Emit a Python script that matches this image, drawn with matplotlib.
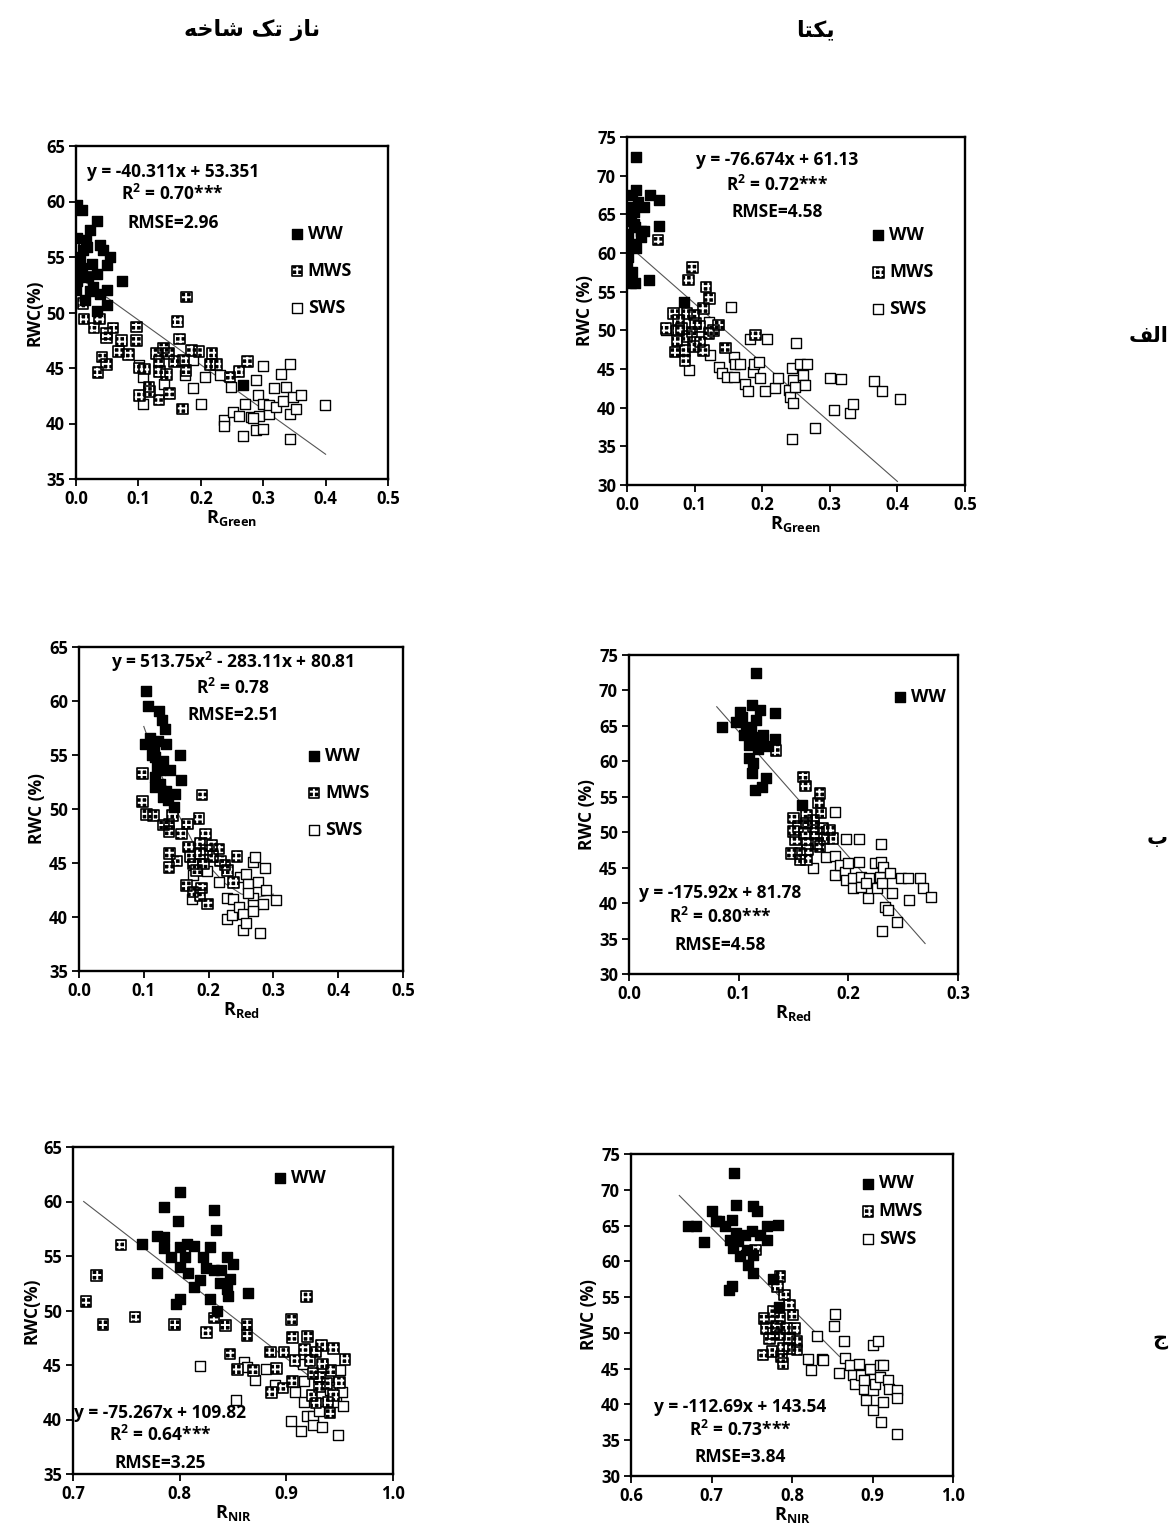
import matplotlib
matplotlib.use("Agg")
import matplotlib.pyplot as plt

plt.rcParams['font.family'] = ['Open Sans', 'DejaVu Sans']
plt.rcParams['font.weight'] = 'bold'
plt.rcParams['hatch.linewidth'] = 1.4

W, H = 1174, 1535

# --- column / row headings (Persian, written in shaped presentation forms, visual order)
col_titles = ['\ufeea\ufea7\ufe8e\ufeb7 \ufb8f\ufe97 \ufeaf\ufe8e\ufee7', '\ufe8e\ufe98\ufb91\ufef3']
row_titles = ['\ufed2\ufedf\ufe8d', '\ufe8f', '\ufe9d']

# --- panel 1: Naz tak shakheh, R_Green
p1_ww_x = [0.002, 0.009, 0.033, 0.022, 0.002, 0.017, 0.038, 0.054, 0.049, 0.006, 0.0, 0.009, 0.033, 0.02,
           0.001, 0.073, 0.0, 0.022, 0.038, 0.049, 0.014, 0.049, 0.033, 0.025, 0.044, 0.012, 0.004, 0.028,
           0.016, 0.268]
p1_ww_y = [59.7, 59.2, 58.2, 57.4, 56.7, 55.9, 56.1, 55.0, 54.3, 55.0, 54.9, 54.0, 53.5, 53.2,
           52.8, 52.8, 52.0, 51.9, 51.7, 52.0, 51.1, 50.7, 50.1, 54.4, 55.6, 55.6, 53.2, 52.3,
           56.5, 43.5]
p1_mws_x = [0.014, 0.018, 0.011, 0.013, 0.029, 0.038, 0.049, 0.059, 0.049, 0.073, 0.068, 0.084, 0.042,
            0.035, 0.049, 0.097, 0.097, 0.101, 0.11, 0.102, 0.117, 0.118, 0.133, 0.129, 0.133, 0.14,
            0.134, 0.145, 0.15, 0.158, 0.172, 0.166, 0.163, 0.177, 0.185, 0.197, 0.176, 0.171, 0.218,
            0.215, 0.225, 0.247, 0.261, 0.275, 0.148]
p1_mws_y = [55.9, 53.2, 50.8, 49.4, 48.6, 49.4, 48.1, 48.6, 47.7, 47.5, 46.5, 46.2, 46.0,
            44.6, 45.3, 48.7, 47.5, 45.0, 44.9, 42.5, 43.3, 42.9, 42.1, 46.3, 45.6, 46.8,
            44.7, 44.4, 42.7, 45.6, 45.7, 47.6, 49.2, 51.4, 46.6, 46.5, 44.8, 41.3, 46.3,
            45.3, 45.3, 44.2, 44.7, 45.6, 46.3]
p1_sws_x = [0.101, 0.108, 0.108, 0.141, 0.174, 0.187, 0.188, 0.2, 0.206, 0.23, 0.237, 0.237, 0.251,
            0.248, 0.261, 0.268, 0.271, 0.281, 0.289, 0.292, 0.289, 0.294, 0.3, 0.3, 0.3, 0.31, 0.309,
            0.318, 0.321, 0.328, 0.332, 0.336, 0.343, 0.343, 0.343, 0.348, 0.352, 0.36, 0.399, 0.284]
p1_sws_y = [45.3, 41.8, 44.2, 43.6, 44.4, 43.2, 45.7, 41.8, 44.2, 44.4, 40.3, 39.8, 41.0,
            43.3, 40.7, 38.9, 41.8, 40.6, 43.9, 42.6, 39.4, 40.7, 39.5, 45.2, 41.8, 40.9, 41.7,
            43.2, 41.5, 44.5, 42.0, 43.3, 45.4, 38.6, 40.9, 42.4, 41.3, 42.6, 41.7, 40.5]
p1_fit_x = [0.0, 0.4]
p1_fit_y = [53.35, 37.23]

# --- panel 2: Yekta, R_Green
p2_ww_x = [0.014, 0.014, 0.007, 0.034, 0.047, 0.002, 0.01, 0.025, 0.005, 0.012, 0.02, 0.048, 0.002, 0.007,
           0.014, 0.002, 0.0, 0.007, 0.012, 0.033, 0.006, 0.084, 0.025, 0.006, 0.017, 0.011, 0.0, 0.02]
p2_ww_y = [72.4, 68.1, 67.5, 67.5, 66.8, 66.0, 65.3, 66.0, 64.2, 63.4, 62.9, 63.5, 62.5, 61.2,
           60.6, 59.5, 58.4, 57.6, 56.1, 56.5, 56.1, 53.7, 62.9, 65.1, 66.6, 63.8, 60.4, 62.1]
p2_mws_x = [0.046, 0.097, 0.091, 0.117, 0.122, 0.113, 0.069, 0.058, 0.076, 0.089, 0.099, 0.076, 0.074,
            0.071, 0.086, 0.086, 0.098, 0.108, 0.113, 0.108, 0.121, 0.128, 0.135, 0.096, 0.101, 0.146,
            0.19, 0.089, 0.081]
p2_mws_y = [61.7, 58.1, 56.5, 55.6, 54.1, 52.8, 52.2, 50.2, 51.3, 52.2, 52.0, 50.0, 48.7,
            47.2, 47.4, 46.1, 47.9, 48.5, 47.4, 50.5, 49.6, 50.0, 50.7, 49.8, 50.9, 47.7,
            49.4, 49.2, 50.2]
p2_sws_x = [0.058, 0.091, 0.121, 0.123, 0.154, 0.136, 0.141, 0.148, 0.158, 0.158, 0.16, 0.167, 0.175,
            0.179, 0.182, 0.187, 0.188, 0.196, 0.197, 0.204, 0.207, 0.219, 0.224, 0.239, 0.244, 0.241,
            0.245, 0.25, 0.246, 0.249, 0.256, 0.261, 0.266, 0.263, 0.244, 0.278, 0.3, 0.306, 0.316,
            0.33, 0.335, 0.365, 0.377, 0.404]
p2_sws_y = [50.0, 44.9, 51.1, 46.8, 53.0, 45.3, 44.5, 44.0, 44.0, 46.6, 45.7, 45.7, 43.1,
            42.1, 48.9, 44.6, 45.7, 45.9, 43.8, 42.1, 48.9, 42.5, 43.8, 42.3, 45.1, 41.4,
            40.6, 48.3, 43.6, 42.7, 45.7, 44.2, 45.7, 42.9, 35.9, 37.4, 43.8, 39.7, 43.7,
            39.3, 40.5, 43.5, 42.2, 41.1]
p2_fit_x = [0.0, 0.4]
p2_fit_y = [61.13, 30.46]

# --- panel 3: Naz tak shakheh, R_Red
p3_ww_x = [0.104, 0.107, 0.124, 0.128, 0.132, 0.102, 0.115, 0.135, 0.156, 0.117, 0.13, 0.12, 0.14, 0.157,
           0.117, 0.125, 0.117, 0.135, 0.148, 0.13, 0.138, 0.146, 0.109, 0.122, 0.112, 0.125]
p3_ww_y = [60.9, 59.5, 59.1, 58.2, 57.4, 56.0, 55.6, 56.0, 55.0, 54.8, 54.4, 53.9, 53.6, 52.7,
           53.0, 52.3, 52.0, 51.7, 51.4, 51.1, 50.8, 50.2, 56.6, 56.3, 55.0, 53.6]
p3_mws_x = [0.098, 0.098, 0.104, 0.115, 0.13, 0.139, 0.144, 0.139, 0.158, 0.167, 0.185, 0.19, 0.195,
            0.14, 0.139, 0.151, 0.169, 0.187, 0.171, 0.176, 0.187, 0.197, 0.205, 0.216, 0.207, 0.218,
            0.225, 0.229, 0.166, 0.176, 0.189, 0.198, 0.187, 0.244, 0.238, 0.181, 0.192]
p3_mws_y = [53.3, 50.7, 49.5, 49.4, 48.5, 48.6, 49.4, 47.9, 47.7, 48.6, 49.1, 51.3, 47.7,
            45.9, 44.6, 45.2, 46.5, 46.8, 45.6, 44.9, 45.9, 46.2, 46.6, 46.3, 45.6, 45.2,
            44.8, 44.3, 42.9, 42.3, 42.7, 41.2, 42.0, 45.6, 43.2, 44.3, 44.9]
p3_sws_x = [0.175, 0.176, 0.197, 0.216, 0.228, 0.228, 0.238, 0.236, 0.247, 0.248, 0.253, 0.253, 0.257,
            0.258, 0.261, 0.269, 0.271, 0.276, 0.269, 0.269, 0.284, 0.287, 0.289, 0.279, 0.304, 0.269,
            0.261]
p3_sws_y = [41.7, 43.9, 44.3, 43.2, 39.8, 41.8, 41.7, 40.2, 40.9, 43.7, 40.3, 38.8, 39.4,
            44.0, 43.1, 45.1, 45.6, 43.2, 41.8, 41.1, 41.2, 44.5, 42.5, 38.5, 41.6, 40.6,
            42.2]
p3_fit_x = [0.1, 0.125, 0.15, 0.175, 0.2, 0.225, 0.25, 0.275, 0.3]
p3_fit_y = [57.64, 53.43, 49.89, 47.01, 44.74, 43.12, 42.14, 41.81, 42.12]

# --- panel 4: Yekta, R_Red
p4_ww_x = [0.1155, 0.101, 0.112, 0.119, 0.133, 0.085, 0.098, 0.107, 0.116, 0.105, 0.113, 0.122, 0.133,
           0.127, 0.119, 0.109, 0.113, 0.112, 0.125, 0.121, 0.115, 0.158, 0.103, 0.111, 0.109, 0.118]
p4_ww_y = [72.4, 67.0, 67.9, 67.2, 66.8, 64.9, 65.6, 64.9, 65.8, 63.7, 63.5, 63.7, 63.2,
           62.1, 62.5, 60.4, 59.7, 58.3, 57.6, 56.4, 56.0, 53.8, 66.3, 64.5, 62.3, 61.8]
p4_mws_x = [0.134, 0.159, 0.161, 0.174, 0.173, 0.175, 0.15, 0.162, 0.154, 0.162, 0.168, 0.177, 0.183,
            0.186, 0.15, 0.16, 0.171, 0.178, 0.152, 0.163, 0.171, 0.148, 0.156, 0.163, 0.156, 0.162,
            0.174, 0.168]
p4_mws_y = [61.5, 57.8, 56.5, 55.5, 54.1, 52.7, 52.0, 52.4, 50.8, 51.3, 50.8, 50.5, 50.3,
            49.1, 50.1, 49.8, 49.8, 49.1, 48.9, 48.4, 48.4, 47.0, 47.0, 47.5, 46.1, 46.1,
            48.0, 51.7]
p4_sws_x = [0.188, 0.18, 0.188, 0.168, 0.198, 0.21, 0.23, 0.188, 0.192, 0.197, 0.2, 0.198, 0.204,
            0.204, 0.21, 0.212, 0.212, 0.218, 0.219, 0.224, 0.226, 0.229, 0.23, 0.232, 0.231, 0.233,
            0.236, 0.231, 0.238, 0.24, 0.244, 0.248, 0.254, 0.255, 0.265, 0.268, 0.275, 0.216]
p4_sws_y = [52.9, 46.5, 46.6, 44.9, 49.0, 49.0, 48.3, 44.0, 45.4, 44.4, 45.6, 43.3, 43.5,
            42.1, 45.8, 43.7, 42.3, 40.7, 43.5, 45.6, 42.1, 43.7, 45.8, 45.1, 42.8, 39.5,
            39.0, 36.0, 44.2, 41.4, 37.4, 43.5, 43.5, 40.4, 43.5, 42.1, 40.9, 42.8]
p4_fit_x = [0.08, 0.27]
p4_fit_y = [67.7, 34.3]

# --- panel 5: Naz tak shakheh, R_NIR
p5_ww_x = [0.8, 0.785, 0.798, 0.832, 0.834, 0.779, 0.785, 0.765, 0.785, 0.8, 0.807, 0.813, 0.828, 0.792,
           0.822, 0.844, 0.85, 0.8, 0.808, 0.825, 0.832, 0.839, 0.779, 0.819, 0.813, 0.838, 0.847, 0.844,
           0.845, 0.864, 0.828, 0.8, 0.797, 0.835, 0.805]
p5_ww_y = [60.9, 59.5, 58.2, 59.2, 57.4, 56.8, 56.7, 56.1, 55.7, 55.8, 56.1, 55.9, 55.8, 54.9,
           54.9, 54.9, 54.3, 54.0, 53.4, 53.9, 53.7, 53.7, 53.4, 52.8, 52.2, 52.5, 52.9, 52.0,
           51.3, 51.6, 51.1, 51.1, 50.6, 50.0, 54.9]
p5_mws_x = [0.712, 0.722, 0.728, 0.745, 0.758, 0.795, 0.825, 0.832, 0.843, 0.847, 0.854, 0.863, 0.863,
            0.869, 0.885, 0.886, 0.891, 0.898, 0.897, 0.905, 0.906, 0.906, 0.908, 0.919, 0.92, 0.917,
            0.922, 0.928, 0.925, 0.924, 0.933, 0.934, 0.931, 0.931, 0.944, 0.942, 0.938, 0.944, 0.955,
            0.95, 0.928, 0.939, 0.941]
p5_mws_y = [50.8, 53.2, 48.7, 56.0, 49.4, 48.7, 48.0, 49.3, 48.6, 46.0, 44.6, 48.7, 47.7,
            44.5, 46.2, 42.5, 44.7, 46.2, 42.9, 49.2, 47.5, 43.5, 45.4, 51.3, 47.6, 46.4,
            45.4, 46.2, 44.2, 42.2, 46.8, 45.1, 43.9, 43.0, 46.5, 44.5, 43.3, 42.2, 45.5,
            43.4, 41.5, 41.6, 40.6]
p5_sws_x = [0.819, 0.853, 0.86, 0.863, 0.871, 0.881, 0.889, 0.904, 0.908, 0.914, 0.917, 0.917, 0.919,
            0.925, 0.925, 0.933, 0.934, 0.939, 0.941, 0.947, 0.948, 0.95, 0.952, 0.953, 0.931, 0.916]
p5_sws_y = [44.9, 41.8, 45.3, 44.8, 43.6, 44.6, 43.2, 39.9, 42.5, 38.9, 43.5, 41.6, 40.3,
            40.3, 39.5, 39.3, 41.5, 43.9, 42.7, 41.6, 38.6, 44.5, 42.5, 41.2, 40.8, 45.1]
p5_fit_x = [0.71, 0.945]
p5_fit_y = [60.0, 42.2]

# --- panel 6: Yekta, R_NIR
p6_ww_x = [0.728, 0.731, 0.752, 0.756, 0.7, 0.706, 0.671, 0.681, 0.709, 0.717, 0.726, 0.769, 0.783, 0.691,
           0.723, 0.731, 0.741, 0.75, 0.76, 0.769, 0.727, 0.744, 0.752, 0.735, 0.745, 0.752, 0.722, 0.725,
           0.784, 0.777, 0.733]
p6_ww_y = [72.3, 67.9, 67.7, 67.0, 67.0, 65.7, 64.9, 64.9, 65.7, 64.9, 65.8, 64.9, 65.1, 62.7,
           63.0, 63.9, 63.7, 64.2, 63.7, 63.0, 61.8, 61.6, 60.9, 60.7, 59.5, 58.3, 56.0, 56.5,
           53.6, 57.6, 62.8]
p6_mws_x = [0.755, 0.785, 0.782, 0.791, 0.797, 0.801, 0.765, 0.777, 0.785, 0.768, 0.781, 0.793, 0.803,
            0.772, 0.785, 0.797, 0.806, 0.789, 0.797, 0.806, 0.764, 0.775, 0.787, 0.789, 0.777]
p6_mws_y = [61.6, 57.9, 56.5, 55.3, 53.9, 52.5, 52.0, 53.0, 52.0, 50.6, 50.9, 50.6, 50.6,
            49.2, 49.7, 49.2, 48.8, 47.8, 47.8, 47.6, 46.9, 47.4, 46.7, 45.7, 49.9]
p6_sws_x = [0.743, 0.854, 0.852, 0.864, 0.831, 0.82, 0.824, 0.837, 0.839, 0.859, 0.866, 0.872, 0.876,
            0.878, 0.883, 0.886, 0.89, 0.892, 0.897, 0.899, 0.901, 0.901, 0.901, 0.907, 0.909, 0.903,
            0.909, 0.913, 0.911, 0.919, 0.921, 0.93, 0.93, 0.931, 0.913, 0.89]
p6_sws_y = [60.9, 52.7, 50.9, 48.9, 49.6, 46.4, 44.8, 46.4, 46.2, 44.4, 46.5, 45.5, 44.1,
            42.9, 45.7, 44.1, 42.2, 40.6, 45.0, 43.6, 42.0, 39.2, 48.3, 48.9, 45.5, 42.9,
            43.9, 40.4, 37.5, 43.4, 42.2, 35.8, 42.0, 40.9, 45.5, 43.4]
p6_fit_x = [0.66, 0.859]
p6_fit_y = [69.2, 46.7]

# equation / statistics text for each panel
p_eq = ['y = -40.311x + 53.351', 'y = -76.674x + 61.13', 'y = 513.75x$^{\\mathregular{2}}$ - 283.11x + 80.81',
        'y = -175.92x + 81.78', 'y = -75.267x + 109.82', 'y = -112.69x + 143.54']
p_r2 = ['0.70***', '0.72***', '0.78', '0.80***', '0.64***', '0.73***']
p_rmse = ['2.96', '4.58', '2.51', '4.58', '3.25', '3.84']
p_xlabel = ['Green', 'Green', 'Red', 'Red', 'NIR', 'NIR']
p_ylabel = ['RWC(%)', 'RWC (%)', 'RWC (%)', 'RWC (%)', 'RWC(%)', 'RWC (%)']
p_xlim = [(0, 0.5), (0, 0.5), (0, 0.5), (0, 0.3), (0.7, 1.0), (0.6, 1.0)]
p_xstep = [0.1, 0.1, 0.1, 0.1, 0.1, 0.1]
p_ylim = [(35, 65), (30, 75), (35, 65), (30, 75), (35, 65), (30, 75)]
p_legend_n = [3, 3, 3, 1, 1, 3]

# pixel boxes (left, top, right, bottom) of each plot area
boxes = [(76, 146, 388, 479), (627, 137, 965, 485), (79, 647, 403, 971),
         (629, 655, 958, 974), (73, 1147, 393, 1474), (631, 1154, 953, 1476)]
# text anchor (x centre, y for equation, R2, RMSE) in axes fraction
txt_pos = [(0.31, 0.922, 0.857, 0.768), (0.444, 0.934, 0.862, 0.784), (0.475, 0.954, 0.873, 0.79),
           (0.277, 0.254, 0.179, 0.091), (0.272, 0.187, 0.119, 0.034), (0.339, 0.214, 0.143, 0.059)]
leg_pos = [(0.65, 0.79), (0.69, 0.77), (0.67, 0.72), (0.77, 0.925), (0.59, 0.96), (0.68, 0.965)]

data = [
    (p1_ww_x, p1_ww_y, p1_mws_x, p1_mws_y, p1_sws_x, p1_sws_y, p1_fit_x, p1_fit_y),
    (p2_ww_x, p2_ww_y, p2_mws_x, p2_mws_y, p2_sws_x, p2_sws_y, p2_fit_x, p2_fit_y),
    (p3_ww_x, p3_ww_y, p3_mws_x, p3_mws_y, p3_sws_x, p3_sws_y, p3_fit_x, p3_fit_y),
    (p4_ww_x, p4_ww_y, p4_mws_x, p4_mws_y, p4_sws_x, p4_sws_y, p4_fit_x, p4_fit_y),
    (p5_ww_x, p5_ww_y, p5_mws_x, p5_mws_y, p5_sws_x, p5_sws_y, p5_fit_x, p5_fit_y),
    (p6_ww_x, p6_ww_y, p6_mws_x, p6_mws_y, p6_sws_x, p6_sws_y, p6_fit_x, p6_fit_y),
]

fig = plt.figure(figsize=(W / 100, H / 100), dpi=100)

ms = 58
for i, (wx, wy, mx, my, sx, sy, fx, fy) in enumerate(data):
    l, t, r, b = boxes[i]
    ax = fig.add_axes([l / W, 1 - b / H, (r - l) / W, (b - t) / H])
    ax.plot(fx, fy, color='#555555', lw=0.8, zorder=1)
    h_sws = ax.scatter(sx, sy, s=ms, marker='s', facecolor='white', edgecolor='black', linewidth=1.0, zorder=2)
    # MWS: black square with a white hatch, then a black outline on top
    h_mws_a = ax.scatter(mx, my, s=ms, marker='s', facecolor='black', edgecolor='white', hatch='+++',
                         linewidth=0, zorder=3)
    h_mws_b = ax.scatter(mx, my, s=ms, marker='s', facecolor='none', edgecolor='black',
                         linewidth=1.2, zorder=3)
    h_ww = ax.scatter(wx, wy, s=ms, marker='s', facecolor='black', edgecolor='black', zorder=4)

    x0, x1 = p_xlim[i]
    ax.set_xlim(x0, x1)
    ax.set_ylim(*p_ylim[i])
    n = int(round((x1 - x0) / p_xstep[i]))
    ax.set_xticks([x0 + k * p_xstep[i] for k in range(n + 1)])
    ax.set_xticklabels(['%.1f' % (x0 + k * p_xstep[i]) for k in range(n + 1)])
    y0, y1 = p_ylim[i]
    ax.set_yticks(list(range(y0, y1 + 1, 5)))
    ax.tick_params(direction='out', length=5, width=1.3, labelsize=12, pad=3)
    for lab in ax.get_xticklabels() + ax.get_yticklabels():
        lab.set_fontweight('bold')
    for sp in ax.spines.values():
        sp.set_linewidth(1.7)

    ax.set_xlabel('R$_{\\mathregular{%s}}$' % p_xlabel[i], fontsize=13, fontweight='bold', labelpad=0)
    ax.set_ylabel(p_ylabel[i], fontsize=12.5, fontweight='bold', labelpad=2)

    cx, ey, ry, rmy = txt_pos[i]
    ax.text(cx, ey, p_eq[i], transform=ax.transAxes, ha='center', va='center', fontsize=12.5)
    ax.text(cx, ry, 'R$^{\\mathregular{2}}$ = ' + p_r2[i], transform=ax.transAxes, ha='center',
            va='center', fontsize=12.5)
    ax.text(cx, rmy, 'RMSE=' + p_rmse[i], transform=ax.transAxes, ha='center', va='center', fontsize=12.5)

    handles = [h_ww, (h_mws_a, h_mws_b), h_sws][:p_legend_n[i]]
    labels = ['WW', 'MWS', 'SWS'][:p_legend_n[i]]
    ax.legend(handles, labels, loc='upper left', bbox_to_anchor=leg_pos[i], frameon=False,
              fontsize=13, handletextpad=0.1, labelspacing=0.55 if i == 5 else 1.05,
              handlelength=1.0, borderpad=0, markerscale=1.0)

fig.text(252 / W, 1 - 30 / H, col_titles[0], ha='center', va='center', fontsize=16,
         family='DejaVu Sans', fontweight='bold')
fig.text(815 / W, 1 - 30 / H, col_titles[1], ha='center', va='center', fontsize=16,
         family='DejaVu Sans', fontweight='bold')
for yy, lab in zip([336, 838, 1340], row_titles):
    fig.text(1168 / W, 1 - yy / H, lab, ha='right', va='center', fontsize=15,
             family='DejaVu Sans', fontweight='bold')

fig.savefig('out.png', dpi=100)
